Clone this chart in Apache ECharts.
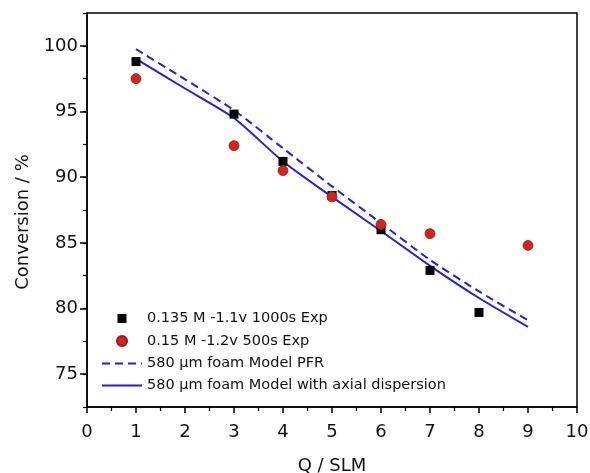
<!DOCTYPE html>
<html>
<head>
<meta charset="utf-8">
<script src="https://cdn.jsdelivr.net/npm/echarts@6/dist/echarts.min.js"></script>
<style>
  html, body { margin: 0; padding: 0; background: #fff; }
  #chartContainer { width: 590px; height: 473px; }
</style>
</head>
<body>
<div id="chartContainer"></div>
<script>
const expA_x = [1, 3, 4, 5, 6, 7, 8];
const expA_y = [98.8, 94.8, 91.2, 88.6, 86.0, 82.9, 79.7];
const expB_x = [1, 3, 4, 5, 6, 7, 9];
const expB_y = [97.5, 92.4, 90.5, 88.5, 86.4, 85.7, 84.8];

// Model curves
const model_x = [1, 2, 3, 4, 5, 6, 7, 8, 9];
const pfr_y = [99.75, 97.45, 95.1, 92.2, 89.3, 86.5, 83.7, 81.3, 79.1];
const axial_y = [99.0, 96.75, 94.5, 91.2, 88.5, 85.9, 83.25, 80.8, 78.6];

const yLabelTicks = [75, 80, 85, 90, 95, 100];

const names = [
    '0.135 M -1.1v 1000s Exp',
    '0.15 M -1.2v 500s Exp',
    '580 \u03bcm foam Model PFR',
    '580 \u03bcm foam Model with axial dispersion'
];

function pairs(xs, ys) {
    return xs.map((x, i) => [x, ys[i]]);
}

// legend icons: small marker centred in a 40x14 box
const squareIcon = 'path://M0,0M40,14M15.5,2.5h9v9h-9Z';
const circleIcon = 'path://M0,0M40,14M15,7a5,5 0 1,0 10,0a5,5 0 1,0 -10,0Z';

const font = 'DejaVu Sans, Arial, sans-serif';
const myChart = echarts.init(document.getElementById('chartContainer'));

const option = {
    animation: false,
    backgroundColor: '#fff',
    textStyle: { fontFamily: font },
    grid: {
        left: 87, right: 13, top: 13, bottom: 66,
        outerBoundsMode: 'none',
        show: true, borderColor: '#000', borderWidth: 1.5
    },
    legend: {
        left: 101, top: 311, padding: 0,
        orient: 'vertical',
        itemWidth: 40, itemHeight: 14, itemGap: 7,
        textStyle: { fontSize: 14.5, color: '#111', fontFamily: font },
        data: [
            { name: names[0], icon: squareIcon },
            { name: names[1], icon: circleIcon },
            { name: names[2], itemStyle: { opacity: 0 } },
            { name: names[3], itemStyle: { opacity: 0 } }
        ]
    },
    xAxis: {
        type: 'value', min: 0, max: 10, interval: 1,
        name: 'Q / SLM', nameLocation: 'middle', nameGap: 50,
        nameTextStyle: { fontSize: 18, color: '#111' },
        axisLine: { lineStyle: { color: '#000', width: 1.5 } },
        axisTick: { length: 6, lineStyle: { color: '#000', width: 1.5 } },
        minorTick: { show: true, splitNumber: 2, length: 4, lineStyle: { color: '#000', width: 1.2 } },
        axisLabel: { fontSize: 18, color: '#111', margin: 16 },
        splitLine: { show: false }
    },
    yAxis: [{
        type: 'value', min: 72.5, max: 102.5,
        name: 'Conversion / %', nameLocation: 'middle', nameGap: 55,
        nameTextStyle: { fontSize: 18, color: '#111', padding: [0, 24, 0, 0] },
        axisLine: { show: true, lineStyle: { color: '#000', width: 1.5 } },
        axisTick: { show: true, length: 7, customValues: yLabelTicks, lineStyle: { color: '#000', width: 1.5 } },
        axisLabel: { fontSize: 18, color: '#111', margin: 9, customValues: yLabelTicks },
        splitLine: { show: false }
    }, {
        type: 'value', min: 72.5, max: 102.5, interval: 2.5,
        position: 'left',
        axisLine: { show: false },
        axisTick: { show: true, length: 4, lineStyle: { color: '#000', width: 1.2 } },
        axisLabel: { show: false },
        splitLine: { show: false }
    }],
    series: [{
        name: names[0], type: 'scatter',
        symbol: 'rect', symbolSize: 9,
        itemStyle: { color: '#000', opacity: 1 },
        data: pairs(expA_x, expA_y), z: 3
    }, {
        name: names[1], type: 'scatter',
        symbol: 'circle', symbolSize: 10,
        itemStyle: { color: '#d0251c', borderColor: '#9a1a14', borderWidth: 0.8, opacity: 1 },
        data: pairs(expB_x, expB_y), z: 4
    }, {
        name: names[2], type: 'line',
        symbol: 'none', smooth: 0.2,
        lineStyle: { color: '#1f1fe6', width: 2, type: [8, 5] },
        itemStyle: { color: '#1f1fe6' },
        data: pairs(model_x, pfr_y), z: 2
    }, {
        name: names[3], type: 'line',
        symbol: 'none', smooth: 0.2,
        lineStyle: { color: '#1f1fe6', width: 2 },
        itemStyle: { color: '#1f1fe6' },
        data: pairs(model_x, axial_y), z: 2
    }]
};

myChart.setOption(option);
</script>
</body>
</html>
